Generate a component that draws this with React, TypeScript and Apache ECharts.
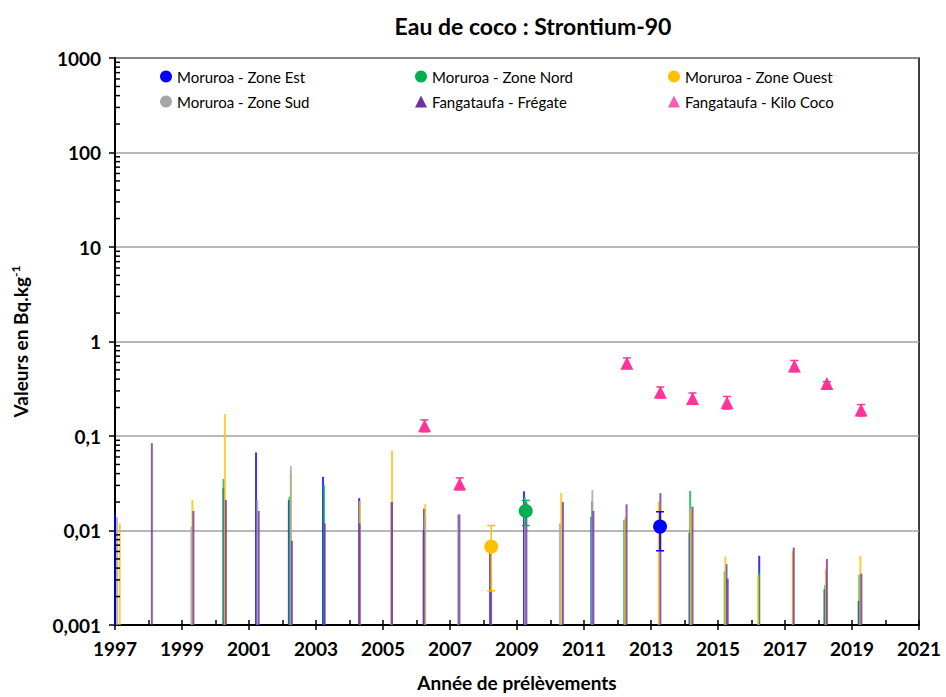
import React, { useEffect, useRef } from "react";
import * as echarts from "echarts";

// Sampling dates (fractional years) and Sr-90 values (Bq/kg) for each site.
// Vertical lines: values below the detection limit (drawn from the axis floor up to the limit).
const estLineX = [1997.0, 2000.24, 2001.21, 2002.19, 2003.21, 2004.29, 2006.23, 2008.2, 2009.21, 2011.22, 2014.15, 2015.25, 2016.23, 2018.18, 2019.2];
const estLineV = [0.015, 0.028, 0.067, 0.021, 0.037, 0.022, 0.017, 0.006, 0.026, 0.014, 0.0095, 0.0044, 0.0054, 0.0024, 0.0018];

const nordLineX = [2000.24, 2002.21, 2003.24, 2011.24, 2012.2, 2014.17, 2015.2, 2016.22, 2018.2, 2019.22];
const nordLineV = [0.035, 0.0228, 0.03, 0.0203, 0.0129, 0.0262, 0.0037, 0.0036, 0.00265, 0.0034];

const ouestLineX = [1997.14, 1999.31, 2000.28, 2002.25, 2004.31, 2005.27, 2006.26, 2010.32, 2012.23, 2013.23, 2014.19, 2015.22, 2016.2, 2017.23, 2018.22, 2019.25];
const ouestLineV = [0.0119, 0.021, 0.171, 0.04, 0.0205, 0.07, 0.019, 0.025, 0.0138, 0.0202, 0.0169, 0.0053, 0.0034, 0.0061, 0.0039, 0.0054];

const sudLineX = [1997.06, 1999.28, 2001.25, 2002.25, 2005.24, 2006.25, 2007.24, 2008.23, 2009.24, 2010.28, 2011.25];
const sudLineV = [0.0138, 0.011, 0.021, 0.048, 0.02, 0.014, 0.0148, 0.0037, 0.0225, 0.0119, 0.0268];

const fregateLineX = [1998.1, 1999.34, 2000.31, 2001.29, 2002.28, 2003.26, 2004.3, 2005.27, 2006.21, 2007.28, 2008.22, 2009.28, 2010.37, 2011.28, 2012.27, 2013.28, 2014.24, 2015.29, 2017.26, 2018.25, 2019.28];
const fregateLineV = [0.0838, 0.0161, 0.021, 0.0161, 0.0078, 0.0119, 0.0119, 0.02, 0.01, 0.0148, 0.006, 0.02, 0.02, 0.0161, 0.0189, 0.0248, 0.0179, 0.0031, 0.0066, 0.005, 0.0035];

// Measured values with their uncertainty range [low, high].
const estPointX = [2013.27];
const estPointV = [0.011];
const estPointLow = [0.0061];
const estPointHigh = [0.0158];

const nordPointX = [2009.26];
const nordPointV = [0.0161];
const nordPointLow = [0.0113];
const nordPointHigh = [0.0208];

const ouestPointX = [2008.23];
const ouestPointV = [0.00675];
const ouestPointLow = [0.0023];
const ouestPointHigh = [0.0113];

const kiloPointX = [2006.24, 2007.29, 2012.28, 2013.28, 2014.24, 2015.27, 2017.28, 2018.25, 2019.27];
const kiloPointV = [0.128, 0.031, 0.59, 0.29, 0.25, 0.225, 0.55, 0.36, 0.188];
const kiloPointLow = [0.111, 0.027, 0.52, 0.255, 0.22, 0.193, 0.48, 0.345, 0.163];
const kiloPointHigh = [0.148, 0.036, 0.67, 0.33, 0.285, 0.262, 0.63, 0.375, 0.215];

// Axis settings
const yearMin = 1997;
const yearMax = 2021;
const yearStep = 2;
const valueMin = 0.001;
const valueMax = 1000;
const minorMultipliers = [2, 3, 4, 5, 6, 7, 8, 9];
const decadeStarts = [0.001, 0.01, 0.1, 1, 10, 100];

const C_EST = "#0000FF";
const C_NORD = "#00B050";
const C_OUEST = "#FFC000";
const C_SUD = "#A6A6A6";
const C_FREGATE = "#7030A0";
const C_KILO = "#FF3399";

const N_EST = "Moruroa - Zone Est";
const N_NORD = "Moruroa - Zone Nord";
const N_OUEST = "Moruroa - Zone Ouest";
const N_SUD = "Moruroa - Zone Sud";
const N_FREGATE = "Fangataufa - Frégate";
const N_KILO = "Fangataufa - Kilo Coco";

const FONT = "Lato";

function zip2(a: number[], b: number[]) {
  return a.map((v, i) => [v, b[i]]);
}
function zip3(a: number[], b: number[], c: number[]) {
  return a.map((v, i) => [v, b[i], c[i]]);
}

function limitLines(name: string, color: string, xs: number[], vs: number[]) {
  return {
    type: "custom",
    name,
    z: 2,
    itemStyle: { color },
    encode: { x: 0, y: 1 },
    data: zip2(xs, vs),
    renderItem: (_p: any, api: any) => {
      const x = api.value(0);
      const top = api.coord([x, api.value(1)]);
      const bottom = api.coord([x, valueMin]);
      return {
        type: "line",
        shape: { x1: top[0], y1: top[1], x2: bottom[0], y2: bottom[1] },
        style: { stroke: color, lineWidth: 2, opacity: 0.8 },
      };
    },
  };
}

function errorBars(color: string, xs: number[], lo: number[], hi: number[]) {
  return {
    type: "custom",
    name: "err",
    z: 3,
    encode: { x: 0, y: [1, 2] },
    data: zip3(xs, lo, hi),
    renderItem: (_p: any, api: any) => {
      const x = api.value(0);
      const a = api.coord([x, api.value(1)]);
      const b = api.coord([x, api.value(2)]);
      const half = 4;
      const style = { stroke: color, lineWidth: 1.5 };
      return {
        type: "group",
        children: [
          { type: "line", shape: { x1: a[0], y1: a[1], x2: b[0], y2: b[1] }, style },
          { type: "line", shape: { x1: a[0] - half, y1: a[1], x2: a[0] + half, y2: a[1] }, style },
          { type: "line", shape: { x1: b[0] - half, y1: b[1], x2: b[0] + half, y2: b[1] }, style },
        ],
      };
    },
  };
}

function points(name: string, color: string, symbol: string, size: number, xs: number[], vs: number[]) {
  return {
    type: "scatter",
    name,
    z: 4,
    symbol,
    symbolSize: size,
    itemStyle: { color, opacity: 1 },
    data: zip2(xs, vs),
  };
}

export default function App() {
  const ref = useRef<HTMLDivElement>(null);

  useEffect(() => {
    if (!ref.current) return;
    const chart = echarts.init(ref.current, undefined, { renderer: "svg" });

    // Minor log ticks on the value axis (2..9 within each decade)
    const minorTickData: number[][] = [];
    decadeStarts.forEach((d) => minorMultipliers.forEach((m) => minorTickData.push([yearMin, d * m])));

    const legendText = { fontFamily: FONT, fontSize: 15, color: "#000" };
    const legendBase = {
      orient: "vertical",
      top: 69,
      itemWidth: 12,
      itemHeight: 12,
      itemGap: 10,
      padding: 0,
      textStyle: legendText,
      selectedMode: false,
    };

    const xAxisCommon = {
      type: "value",
      min: yearMin,
      max: yearMax,
      interval: yearStep,
      position: "bottom",
      splitLine: { show: false },
    };

    chart.setOption({
      animation: false,
      textStyle: { fontFamily: FONT },
      title: {
        text: "Eau de coco : Strontium-90",
        left: 528,
        top: 9,
        textAlign: "center",
        textStyle: { fontFamily: FONT, fontWeight: "bold", fontSize: 23, color: "#000" },
      },
      legend: [
        { ...legendBase, left: 160, data: [{ name: N_EST, icon: "circle" }, { name: N_SUD, icon: "circle" }] },
        { ...legendBase, left: 415, data: [{ name: N_NORD, icon: "circle" }, { name: N_FREGATE, icon: "triangle" }] },
        { ...legendBase, left: 668, data: [{ name: N_OUEST, icon: "circle" }, { name: N_KILO, icon: "triangle" }] },
      ],
      grid: {
        left: 115,
        right: 27,
        top: 58,
        bottom: 72,
        show: true,
        borderColor: "#000",
        borderWidth: 1.5,
        backgroundColor: "transparent",
      },
      xAxis: [
        {
          ...xAxisCommon,
          name: "Année de prélèvements",
          nameLocation: "middle",
          nameGap: 48,
          nameTextStyle: { fontFamily: FONT, fontWeight: "bold", fontSize: 19, color: "#000" },
          axisLine: { show: true, lineStyle: { color: "#000", width: 2 } },
          axisTick: { show: true, inside: true, length: 5, lineStyle: { color: "#000", width: 1.5 } },
          minorTick: { show: true, splitNumber: 2, length: 5, lineStyle: { color: "#000", width: 1.5 } },
          axisLabel: {
            margin: 14,
            fontFamily: FONT,
            fontWeight: "bold",
            fontSize: 19,
            color: "#000",
            formatter: (v: number) => String(v),
          },
        },
        {
          ...xAxisCommon,
          axisLine: { show: false },
          axisTick: { show: true, inside: false, length: 5, lineStyle: { color: "#000", width: 1.5 } },
          axisLabel: { show: false },
        },
      ],
      yAxis: {
        type: "log",
        logBase: 10,
        min: valueMin,
        max: valueMax,
        name: "{a|Valeurs en Bq.kg}{b|-1}",
        nameLocation: "middle",
        nameGap: 84,
        nameTextStyle: {
          rich: {
            a: { fontFamily: FONT, fontWeight: "bold", fontSize: 19, color: "#000", lineHeight: 22 },
            b: { fontFamily: FONT, fontWeight: "bold", fontSize: 12, color: "#000", verticalAlign: "top", lineHeight: 22 },
          },
        },
        axisLine: { show: true, lineStyle: { color: "#000", width: 2 } },
        axisTick: { show: true, inside: false, length: 6, lineStyle: { color: "#000", width: 1.5 } },
        axisLabel: {
          margin: 14,
          fontFamily: FONT,
          fontWeight: "bold",
          fontSize: 19,
          color: "#000",
          formatter: (v: number) => String(v).replace(".", ","),
        },
        splitLine: { show: true, lineStyle: { color: "#A0A0A0", width: 1.5 } },
      },
      series: [
        limitLines(N_EST, C_EST, estLineX, estLineV),
        limitLines(N_NORD, C_NORD, nordLineX, nordLineV),
        limitLines(N_OUEST, C_OUEST, ouestLineX, ouestLineV),
        limitLines(N_SUD, C_SUD, sudLineX, sudLineV),
        limitLines(N_FREGATE, C_FREGATE, fregateLineX, fregateLineV),
        {
          type: "scatter",
          name: N_KILO,
          itemStyle: { color: C_KILO },
          symbolSize: 0,
          data: [],
        },
        errorBars(C_EST, estPointX, estPointLow, estPointHigh),
        errorBars(C_NORD, nordPointX, nordPointLow, nordPointHigh),
        errorBars(C_OUEST, ouestPointX, ouestPointLow, ouestPointHigh),
        errorBars(C_KILO, kiloPointX, kiloPointLow, kiloPointHigh),
        points("pEst", C_EST, "circle", 14, estPointX, estPointV),
        points("pNord", C_NORD, "circle", 14, nordPointX, nordPointV),
        points("pOuest", C_OUEST, "circle", 14, ouestPointX, ouestPointV),
        points("pKilo", C_KILO, "triangle", 13, kiloPointX, kiloPointV),
        {
          type: "custom",
          name: "minorTicks",
          z: 6,
          silent: true,
          clip: false,
          encode: { x: 0, y: 1 },
          data: minorTickData,
          renderItem: (_p: any, api: any) => {
            const p = api.coord([api.value(0), api.value(1)]);
            return {
              type: "line",
              shape: { x1: p[0], y1: p[1], x2: p[0] + 5, y2: p[1] },
              style: { stroke: "#000", lineWidth: 1.5 },
            };
          },
        },
      ],
    });

    return () => chart.dispose();
  }, []);

  return (
    <div
      ref={ref}
      style={{ position: "fixed", left: 0, top: 0, width: 946, height: 697, background: "#fff" }}
    />
  );
}
